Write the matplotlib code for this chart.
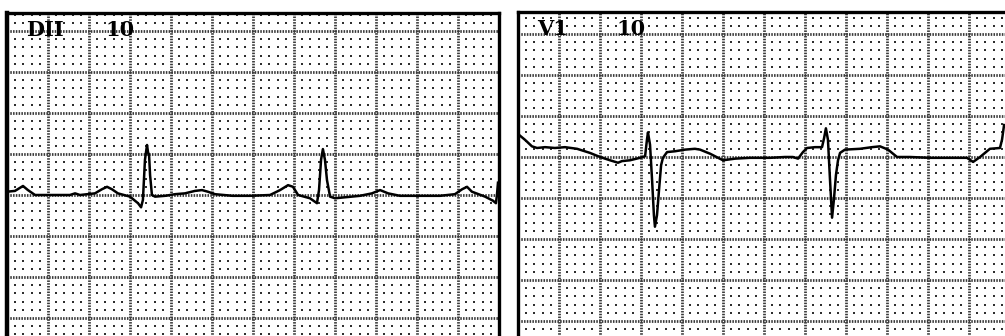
import numpy as np
import matplotlib
matplotlib.use("Agg")
import matplotlib.pyplot as plt

# ECG strips, 25 mm/s and 10 mm/mV; time in s, amplitude in mV from baseline
lead_names = ["DII", "V1"]
gain_labels = ["10", "10"]

dii_t = [0.000, 0.039, 0.078, 0.102, 0.137, 0.200, 0.307, 0.332, 0.356, 0.429,
         0.463, 0.488, 0.512, 0.541, 0.600, 0.639, 0.654, 0.663, 0.673, 0.683,
         0.688, 0.693, 0.698, 0.707, 0.722, 0.771, 0.820, 0.868, 0.917, 0.951,
         0.980, 1.015, 1.100, 1.185, 1.283, 1.332, 1.371, 1.395, 1.420, 1.478,
         1.512, 1.522, 1.532, 1.541, 1.551, 1.561, 1.576, 1.600, 1.722, 1.780,
         1.820, 1.859, 1.917, 2.000, 2.112, 2.185, 2.220, 2.244, 2.268, 2.332,
         2.371, 2.385, 2.390, 2.395]
dii_v = [0.04, 0.05, 0.11, 0.06, 0.00, 0.00, 0.00, 0.02, 0.00, 0.02,
         0.07, 0.10, 0.07, 0.02, -0.02, -0.10, -0.15, -0.06, 0.43, 0.61,
         0.52, 0.49, 0.24, 0.00, -0.02, -0.01, 0.01, 0.02, 0.05, 0.06,
         0.04, 0.01, -0.01, -0.01, 0.00, 0.06, 0.12, 0.10, 0.00, -0.04,
         -0.10, 0.06, 0.43, 0.56, 0.43, 0.18, -0.02, -0.04, -0.01, 0.02,
         0.06, 0.02, -0.01, -0.01, -0.01, 0.01, 0.07, 0.10, 0.04, -0.02,
         -0.07, -0.10, 0.00, 0.15]

v1_t = [0.005, 0.034, 0.068, 0.093, 0.132, 0.180, 0.229, 0.288, 0.351, 0.400,
        0.449, 0.488, 0.507, 0.546, 0.595, 0.620, 0.629, 0.634, 0.644, 0.654,
        0.663, 0.668, 0.678, 0.688, 0.698, 0.707, 0.727, 0.766, 0.815, 0.863,
        0.888, 0.937, 0.976, 1.000, 1.059, 1.132, 1.229, 1.302, 1.341, 1.366,
        1.390, 1.410, 1.449, 1.483, 1.493, 1.502, 1.512, 1.522, 1.532, 1.541,
        1.551, 1.561, 1.571, 1.595, 1.668, 1.727, 1.766, 1.805, 1.849, 1.912,
        2.010, 2.107, 2.190, 2.220, 2.254, 2.302, 2.351, 2.361, 2.371]
v1_v = [0.27, 0.21, 0.13, 0.11, 0.12, 0.11, 0.12, 0.10, 0.05, 0.00,
        -0.04, -0.07, -0.05, -0.04, -0.01, 0.01, 0.21, 0.30, 0.15, -0.28,
        -0.71, -0.85, -0.71, -0.40, -0.10, -0.01, 0.06, 0.07, 0.09, 0.10,
        0.09, 0.04, -0.01, -0.04, -0.02, -0.01, -0.01, 0.00, 0.00, -0.02,
        0.06, 0.11, 0.12, 0.12, 0.23, 0.35, 0.21, -0.28, -0.74, -0.52,
        -0.22, -0.04, 0.05, 0.09, 0.10, 0.12, 0.13, 0.09, 0.00, 0.00,
        -0.01, -0.01, -0.01, -0.06, 0.00, 0.10, 0.11, 0.21, 0.39]

traces = [(dii_t, dii_v), (v1_t, v1_v)]

W, H = 1005, 336
fig = plt.figure(figsize=(W / 100, H / 100), dpi=100)
fig.patch.set_facecolor("white")

# pixel boxes (left, top) and baseline height; each strip is 12 x 8 big squares of 41 px
panels = [(7, 13, 195), (518, 12, 157)]
sq = 41.0

for (name, gain, (t, v), (px0, py0, base)) in zip(lead_names, gain_labels, traces, panels):
    w = 12 * sq
    h = 8 * sq
    ax = fig.add_axes([px0 / W, (H - py0 - h) / H, w / W, h / H])
    ymin = -(py0 + h - base) / (2 * sq)
    ymax = ymin + 4.0
    ax.set_xlim(0, 2.4)
    ax.set_ylim(ymin, ymax)
    ax.set_xticks([])
    ax.set_yticks([])

    # small dots every 1 mm, skipping the big lines
    xs = np.arange(0, 2.4001, 0.04)
    ys = np.arange(np.ceil(ymin / 0.1) * 0.1, ymax + 1e-6, 0.1)
    gx, gy = np.meshgrid(xs, ys)
    fx = (gx / 0.2) % 1
    fy = (gy / 0.5) % 1
    on_x = (fx < 1e-3) | (fx > 1 - 1e-3)
    on_y = (fy < 1e-3) | (fy > 1 - 1e-3)
    keep = ~(on_x | on_y)
    ax.scatter(gx[keep], gy[keep], s=3.6, c="#2e2e2e", marker="s", linewidths=0, zorder=1)

    # big squares, dotted
    for xv in np.arange(0.2, 2.4, 0.2):
        ax.axvline(xv, color="#3a3a3a", lw=2.0, ls=(0, (0.55, 0.45)), zorder=1)
    for yv in np.arange(np.ceil(ymin / 0.5) * 0.5, ymax, 0.5):
        ax.axhline(yv, color="#3a3a3a", lw=2.0, ls=(0, (0.55, 0.45)), zorder=1)

    ax.plot(t, v, color="black", lw=1.8, zorder=3, solid_joinstyle="round")

    for sp in ax.spines.values():
        sp.set_color("black")
        sp.set_linewidth(2.4)
    if name == "DII":
        ax.spines["left"].set_linewidth(3.2)

    ax.text(0.095, ymax - 0.21, name, fontsize=15, fontweight="bold",
            family="DejaVu Serif", ha="left", va="center", zorder=4)
    ax.text(0.48, ymax - 0.21, gain, fontsize=15, fontweight="bold",
            family="DejaVu Serif", ha="left", va="center", zorder=4)

fig.savefig("out.png", dpi=100, facecolor="white")
